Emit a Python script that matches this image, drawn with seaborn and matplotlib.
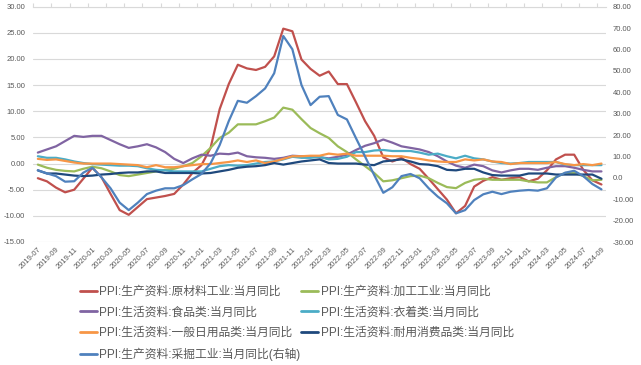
import numpy as np
import pandas as pd
import matplotlib
matplotlib.use("Agg")
import matplotlib.pyplot as plt
from matplotlib.lines import Line2D
from matplotlib.ticker import FuncFormatter, MultipleLocator
import seaborn as sns

# 数据: 2019-07 ~ 2024-09 月度同比
months = pd.period_range("2019-07", "2024-09", freq="M").strftime("%Y-%m").tolist()

raw_material = [-2.8, -3.4, -4.6, -5.5, -5.0, -2.9, -0.8, -2.6, -5.8, -8.9,
                -9.8, -8.3, -6.8, -6.5, -6.2, -5.8, -4.0, -1.8, -0.3, 3.0,
                10.4, 15.2, 18.9, 18.2, 17.9, 18.5, 20.5, 25.8, 25.3, 19.9,
                18.1, 16.8, 17.6, 15.2, 15.2, 11.7, 8.1, 5.3, 1.2, 0.4,
                1.1, -0.1, -1.0, -2.9, -4.9, -6.9, -9.5, -8.1, -4.4, -3.3,
                -2.6, -3.1, -2.8, -2.6, -3.4, -2.9, -1.3, 0.8, 1.7, 1.7,
                -1.2, -3.2, -4.0]
processing = [-0.2, -0.8, -1.2, -1.4, -1.5, -1.0, -0.6, -0.9, -1.5, -2.2,
              -2.4, -2.1, -1.8, -1.5, -1.2, -1.0, -0.5, 0.1, 1.4, 3.0,
              4.9, 5.9, 7.5, 7.5, 7.5, 8.1, 8.8, 10.7, 10.3, 8.5,
              6.8, 5.8, 4.9, 3.3, 2.2, 0.8, -0.5, -1.8, -3.4, -3.2,
              -2.8, -2.4, -2.3, -2.8, -3.7, -4.5, -4.7, -3.7, -3.1, -2.9,
              -3.1, -3.1, -3.1, -3.1, -3.4, -3.6, -3.6, -2.6, -1.8, -1.8,
              -2.4, -3.2, -3.1]
food = [2.1, 2.7, 3.3, 4.3, 5.3, 5.1, 5.3, 5.3, 4.5, 3.7,
        3.0, 3.3, 3.7, 3.1, 2.2, 0.9, 0.1, 1.0, 1.7, 1.5,
        1.9, 1.8, 2.1, 1.4, 1.2, 1.1, 0.9, 1.1, 1.5, 1.4,
        1.4, 1.2, 1.0, 1.3, 1.7, 2.6, 3.4, 3.9, 4.6, 4.0,
        3.3, 3.0, 2.7, 2.2, 1.4, 0.4, -0.4, -0.8, -0.2, -0.5,
        -1.3, -1.7, -1.3, -1.0, -1.0, -1.2, -0.8, -0.5, -0.5, -0.8,
        -1.2, -1.5, -1.5]
clothing = [1.4, 1.1, 1.1, 0.8, 0.4, 0.1, -0.1, -0.2, -0.3, -0.4,
            -0.4, -0.5, -0.9, -1.2, -1.3, -1.5, -1.5, -1.5, -1.5, -1.0,
            -0.5, -0.3, -0.4, -0.3, 0.0, 0.3, 0.4, 0.8, 1.3, 1.1,
            1.1, 1.3, 0.8, 0.9, 1.3, 2.2, 2.2, 2.5, 2.6, 2.4,
            2.4, 2.4, 2.1, 1.7, 1.9, 1.4, 1.0, 1.5, 1.0, 0.8,
            0.4, 0.1, 0.0, 0.1, 0.3, 0.3, 0.3, 0.3, -0.2, -0.3,
            -0.3, -0.3, -0.3]
daily_use = [0.9, 0.7, 0.8, 0.5, 0.2, 0.0, 0.0, 0.0, 0.0, -0.1,
             -0.2, -0.3, -0.7, -0.3, -0.7, -0.7, -0.5, -0.3, -0.1, -0.1,
             0.1, 0.3, 0.6, 0.3, 0.6, 0.1, 0.4, 0.9, 1.4, 1.4,
             1.5, 1.5, 1.9, 1.7, 1.9, 1.5, 1.5, 1.5, 1.5, 1.4,
             1.4, 1.1, 0.9, 0.6, 0.4, 0.3, 0.3, 0.8, 0.6, 0.8,
             0.4, 0.3, -0.1, 0.1, 0.1, 0.1, 0.1, 0.3, -0.1, -0.3,
             -0.1, -0.3, 0.0]
durable = [-1.3, -1.9, -1.9, -2.1, -2.3, -2.4, -2.3, -2.1, -2.0, -1.8,
           -1.7, -1.7, -1.5, -1.5, -1.8, -1.8, -1.8, -1.8, -1.9, -1.8,
           -1.5, -1.2, -0.8, -0.6, -0.5, -0.3, 0.1, -0.2, 0.1, 0.4,
           0.6, 0.8, 0.1, 0.0, 0.0, 0.0, -0.2, -0.3, 0.4, 0.6,
           0.8, 0.4, -0.1, -0.2, -0.5, -1.2, -1.3, -1.0, -1.0, -1.7,
           -2.2, -2.3, -2.3, -2.3, -1.9, -1.9, -1.9, -2.1, -2.1, -2.1,
           -2.1, -2.1, -2.9]
# 右轴
mining = [3.5, 2.1, 0.8, -1.8, -1.6, 2.4, 4.7, 0.2, -4.9, -11.6,
          -15.1, -11.6, -7.6, -6.0, -4.9, -4.9, -3.4, -0.7, 1.8, 6.8,
          15.3, 26.5, 36.0, 35.1, 38.2, 41.8, 48.9, 66.3, 60.1, 43.4,
          34.0, 37.9, 38.2, 29.4, 27.3, 18.5, 9.9, 1.3, -7.0, -4.4,
          0.8, 1.8, -0.2, -4.9, -8.8, -11.9, -16.6, -15.1, -10.4, -7.7,
          -6.5, -7.6, -6.5, -6.0, -5.7, -6.0, -4.9, 0.2, 2.4, 3.3,
          0.8, -2.9, -5.4]

names = ["PPI:生产资料:原材料工业:当月同比", "PPI:生产资料:加工工业:当月同比",
         "PPI:生活资料:食品类:当月同比", "PPI:生活资料:衣着类:当月同比",
         "PPI:生活资料:一般日用品类:当月同比", "PPI:生活资料:耐用消费品类:当月同比"]
mining_name = "PPI:生产资料:采掘工业:当月同比(右轴)"
colors = ["#C0504D", "#9BBB59", "#8064A2", "#4BACC6", "#F79646", "#1F497D"]
mining_color = "#4F81BD"

x = np.arange(len(months))
df = pd.DataFrame({"idx": x})
for n, v in zip(names, [raw_material, processing, food, clothing, daily_use, durable]):
    df[n] = v
df_long = df.melt(id_vars="idx", var_name="series", value_name="value")

sns.set_theme(style="white")
plt.rcParams["font.family"] = ["Liberation Sans", "Noto Sans CJK SC", "DejaVu Sans"]
plt.rcParams["axes.unicode_minus"] = False

W, H = 641, 365
fig = plt.figure(figsize=(W / 100, H / 100), dpi=100)
ax = fig.add_axes([33.3 / W, 1 - 242 / H, (606 - 33.3) / W, (242 - 6.7) / H])

sns.lineplot(data=df_long, x="idx", y="value", hue="series", hue_order=names,
             palette=dict(zip(names, colors)), linewidth=1.6, legend=False, ax=ax)

ax2 = ax.twinx()
sns.lineplot(x=x, y=mining, color=mining_color, linewidth=1.6, ax=ax2)

tick_col = "#595959"
ax.set_xlim(-0.5, len(months) - 0.5)
ax.set_ylim(-15, 30)
ax.yaxis.set_major_locator(MultipleLocator(5))
ax.yaxis.set_major_formatter(FuncFormatter(lambda v, p: f"{v:.2f}"))
ax.grid(axis="y", color="#D9D9D9", linewidth=0.8)
ax.grid(axis="x", visible=False)
ax.set_xticks(x[::2])
ax.set_xticklabels(months[::2], rotation=45, ha="right", rotation_mode="anchor")
ax.tick_params(axis="x", length=0, pad=3, labelsize=5.5, colors=tick_col)
ax.tick_params(axis="y", length=0, pad=6, labelsize=5.5, colors=tick_col)
ax.set_xlabel("")
ax.set_ylabel("")

ax2.set_ylim(-30, 80)
ax2.yaxis.set_major_locator(MultipleLocator(10))
ax2.yaxis.set_major_formatter(FuncFormatter(lambda v, p: "0.0" if abs(v) < 1e-9 else f"{v:.2f}"))
ax2.tick_params(axis="y", length=0, pad=5, labelsize=5.5, colors=tick_col)
ax2.grid(False)
ax2.set_ylabel("")

for a in (ax, ax2):
    for s in a.spines.values():
        s.set_visible(False)
ax.spines["top"].set_visible(True)
ax.spines["top"].set_color("#D9D9D9")
ax.spines["top"].set_linewidth(0.8)
top = ax.secondary_xaxis("top")
top.set_xticks(np.arange(-0.5, len(months), 2))
top.set_xticklabels([])
top.tick_params(length=3, width=0.8, color="#D9D9D9", direction="out")
for s in top.spines.values():
    s.set_visible(False)

# 图例
order = [0, 2, 4, 6, 1, 3, 5]
handles = [Line2D([], [], color=c, lw=2) for c in colors] + [Line2D([], [], color=mining_color, lw=2)]
labels = names + [mining_name]
fig.legend([handles[i] for i in order], [labels[i] for i in order],
           loc="upper left", bbox_to_anchor=(80 / W, 1 - 286 / H), ncol=2,
           frameon=False, fontsize=8.5, labelcolor=tick_col, handlelength=1.45,
           handletextpad=0.2, columnspacing=0.05, labelspacing=0.72,
           borderpad=0, borderaxespad=0)

fig.savefig("out.png", dpi=100)
